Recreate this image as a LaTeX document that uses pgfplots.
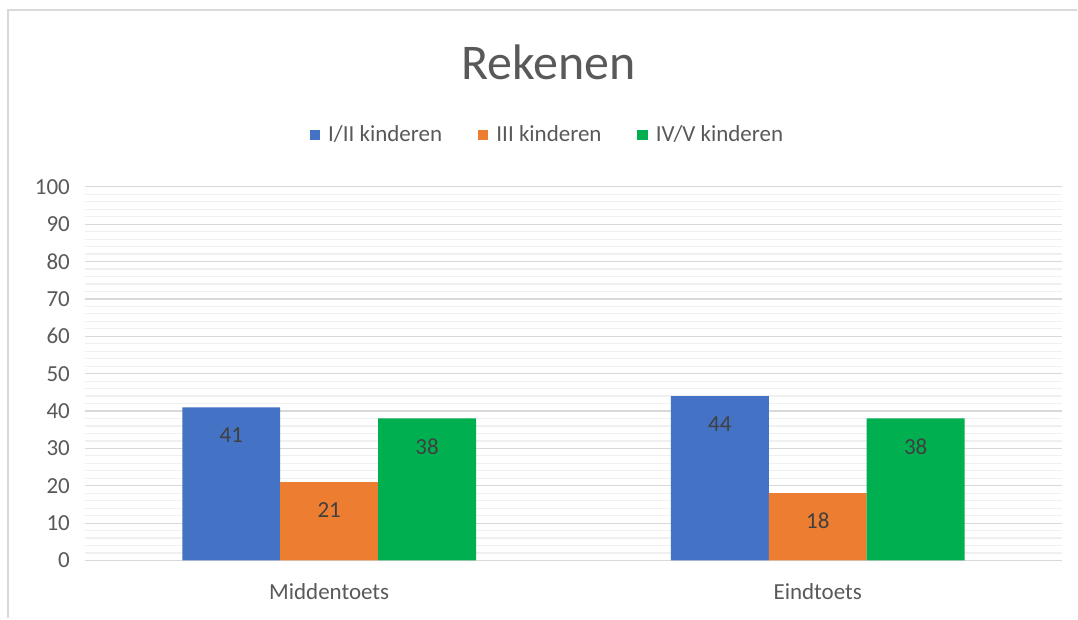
\documentclass[border=0pt]{standalone}
\usepackage{fontspec}
\setmainfont{Carlito}
\usepackage{pgfplots}
\pgfplotsset{compat=1.18}
\definecolor{xblue}{HTML}{4472C4}
\definecolor{xorange}{HTML}{ED7D31}
\definecolor{xgreen}{HTML}{00B050}
\definecolor{txtgray}{HTML}{595959}
\definecolor{lblgray}{HTML}{404040}
\begin{document}
\begin{tikzpicture}
% bounding box and chart border (1 pt = 2 px of the reference)
\path[fill=white] (-42.5pt,-29pt) rectangle (496.5pt,280.5pt);
\draw[color=black!15,line width=1pt] (-38.5pt,-29pt) -- (-38.5pt,275.5pt) -- (496.5pt,275.5pt);
\node[font=\fontsize{25}{30}\selectfont,text=txtgray] at (232pt,249.5pt) {Rekenen};
\begin{axis}[at={(0pt,0pt)},anchor=south west,scale only axis,
 width=489pt,height=187pt,
 ybar,bar width=49pt,
 xmin=-0.5,xmax=1.5,ymin=0,ymax=100,
 xtick={0,1},xticklabels={Middentoets,Eindtoets},
 ytick={0,10,...,100},minor y tick num=4,
 axis line style={draw=none},
 ymajorgrids,yminorgrids,
 major grid style={color=black!15,line width=0.6pt},
 minor grid style={color=black!6,line width=0.6pt},
 major tick length=0pt,minor tick length=0pt,
 tick style={draw=none},
 tick label style={font=\fontsize{11.5}{13}\selectfont,text=txtgray},
 /pgf/number format/assume math mode=true,
 yticklabel style={xshift=-4pt},
 xticklabel style={yshift=-8pt},
 nodes near coords,
 every node near coord/.append style={font=\fontsize{11.5}{13}\selectfont,text=lblgray,anchor=center,yshift=-14pt},
 legend columns=3,
 legend style={at={(0.4744,1.139)},anchor=center,draw=none,fill=none,
  font=\fontsize{11.5}{13}\selectfont,text=txtgray,
  /tikz/every even column/.append style={column sep=16pt},
  /tikz/every odd column/.append style={column sep=2pt}},
 legend image code/.code={\fill[#1,draw=none] (0pt,-2.6pt) rectangle (5.2pt,2.6pt);},
]
\addplot[fill=xblue,draw=none,bar shift=-49pt] coordinates {(0,41) (1,44)};
\addlegendentry{I/II kinderen}
\addplot[fill=xorange,draw=none,bar shift=0pt] coordinates {(0,21) (1,18)};
\addlegendentry{III kinderen}
\addplot[fill=xgreen,draw=none,bar shift=49pt] coordinates {(0,38) (1,38)};
\addlegendentry{IV/V kinderen}
\end{axis}
\end{tikzpicture}
\end{document}
